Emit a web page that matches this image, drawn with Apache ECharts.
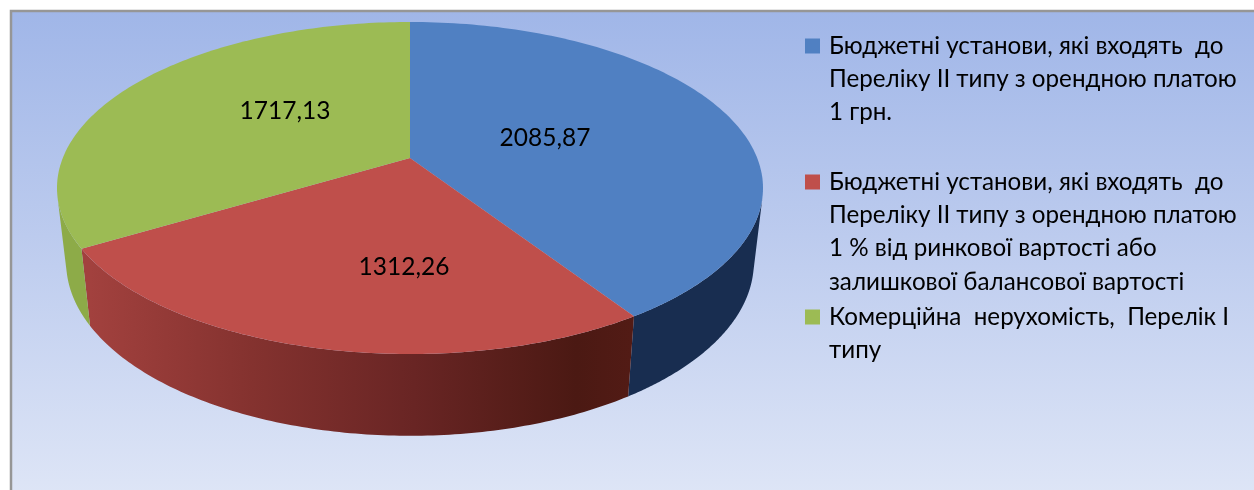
<!DOCTYPE html>
<html><head><meta charset="utf-8">
<style>html,body{margin:0;padding:0;background:#fff}#c{width:1254px;height:490px}</style>
<script src="https://cdn.jsdelivr.net/npm/echarts@6/dist/echarts.min.js"></script>
</head><body><div id="c"></div>
<script>
const categories = [
  'Бюджетні установи, які входять  до Переліку ІІ типу з орендною платою 1 грн.',
  'Бюджетні установи, які входять  до Переліку ІІ типу з орендною платою 1 % від ринкової вартості або залишкової балансової вартості',
  'Комерційна  нерухомість,  Перелік І типу'
];
const values = [2085.87, 1312.26, 1717.13];
const valueLabels = ['2085,87', '1312,26', '1717,13'];
const legendLines = [
  ['Бюджетні установи, які входять  до', 'Переліку ІІ типу з орендною платою', '1 грн.'],
  ['Бюджетні установи, які входять  до', 'Переліку ІІ типу з орендною платою', '1 % від ринкової вартості або', 'залишкової балансової вартості'],
  ['Комерційна  нерухомість,  Перелік І', 'типу']
];
const colors = ['#5080c2', '#bf4f4b', '#9cbb54'];

// --- presentation ---
const FONT = 'Lato';
const LEG_SIZE = 24.2, LEG_LH = 33.3;
const LEG_TOP = [46, 182, 317];
const LABEL_XY = [[545, 138], [404, 267], [285, 111]];
const sideFill = [
  '#182d50',
  {type:'linear',global:true,x:90,y:0,x2:630,y2:0,colorStops:[
    {offset:0,color:'#a2413e'},{offset:.3,color:'#84322f'},{offset:.6,color:'#692524'},
    {offset:.9,color:'#4b1913'},{offset:1,color:'#521b15'}]},
  '#8dab48'
];
// projective mapping of the unit disc on to the tilted pie top
const CX = 410, AY = 158, K = 0.1807, A = 160.6, B = 347.2;
function topPoint(angle, r) {
  const u = r * Math.sin(angle), v = r * Math.cos(angle), w = 1 + K * v;
  return [CX + B * u / w, AY - A * v / w];
}
function bottomPoint(angle) {
  const p = topPoint(angle, 1);
  return [CX + (p[0] - CX) * 0.974, 325 + 1.045 * (p[1] - 248)];
}
// silhouette angles: where the wall's vertical edge is tangent to the rim
function wallCross(a) {
  const e = 1e-3, p = topPoint(a, 1), q = topPoint(a + e, 1), b = bottomPoint(a);
  return (q[0] - p[0]) * (b[1] - p[1]) - (q[1] - p[1]) * (b[0] - p[0]);
}
function findTangent(from, to) {
  const steps = 2000, s0 = Math.sign(wallCross(from));
  for (let k = 1; k <= steps; k++) {
    const a = from + (to - from) * k / steps;
    if (Math.sign(wallCross(a)) !== s0) return a;
  }
  return to;
}
const WALL_START = findTangent(Math.PI, 0);
const WALL_END = findTangent(Math.PI, Math.PI * 2);

const total = values.reduce((a, b) => a + b, 0);
const starts = values.map((_, i) => values.slice(0, i).reduce((a, b) => a + b, 0) / total * Math.PI * 2);

function sweep(fn, from, to, n) {
  const pts = [];
  for (let k = 0; k <= n; k++) pts.push(fn(from + (to - from) * k / n));
  return pts;
}
function renderSlice(i) {
  const a0 = starts[i], a1 = a0 + values[i] / total * Math.PI * 2;
  const arc = sweep(a => topPoint(a, 1), a0, a1, 120);
  const w0 = Math.max(a0, WALL_START), w1 = Math.min(a1, WALL_END);
  const wallTop = sweep(a => topPoint(a, 1), w0, w1, 120);
  const wallBot = sweep(bottomPoint, w0, w1, 120);
  return {type: 'group', children: [
    {type: 'polygon', z2: 1, shape: {points: wallTop.concat(wallBot.reverse())}, style: {fill: sideFill[i]}},
    {type: 'polygon', z2: 2, shape: {points: [topPoint(0, 0)].concat(arc)}, style: {fill: colors[i]}},
    {type: 'text', z2: 3, x: LABEL_XY[i][0], y: LABEL_XY[i][1],
      style: {text: valueLabels[i], fill: '#000', font: '24.5px ' + FONT, align: 'center', verticalAlign: 'middle'}}
  ]};
}

const chart = echarts.init(document.getElementById('c'), null, {renderer: 'canvas'});
chart.setOption({
  animation: false,
  graphic: [{
    type: 'rect', z: -10, silent: true,
    shape: {x: 11, y: 11, width: 1260, height: 500},
    style: {
      stroke: '#969696', lineWidth: 2.5,
      fill: {type: 'linear', x: 0, y: 0, x2: 0, y2: 1, colorStops: [
        {offset: 0, color: '#a0b6e8'}, {offset: .45, color: '#bccbee'}, {offset: 1, color: '#e0e7f7'}]}
    }
  }],
  legend: categories.map((name, i) => ({
    data: [name], left: 805, top: LEG_TOP[i] - (legendLines[i].length - 0.5) * LEG_LH,
    orient: 'vertical', padding: 0, itemWidth: 15, itemHeight: 15, icon: 'rect', selectedMode: false,
    // leading blank lines keep the swatch level with the first real line
    formatter: () => '\n'.repeat(legendLines[i].length - 1) + legendLines[i].join('\n'),
    textStyle: {
      fontFamily: FONT, fontSize: LEG_SIZE, lineHeight: LEG_LH, color: '#000',
      padding: [0, 0, 0, 4]
    }
  })),
  series: categories.map((name, i) => ({
    type: 'custom', name, coordinateSystem: 'none', silent: true,
    itemStyle: {color: colors[i]},
    data: [[values[i]]],
    renderItem: () => renderSlice(i)
  }))
});
</script></body></html>
